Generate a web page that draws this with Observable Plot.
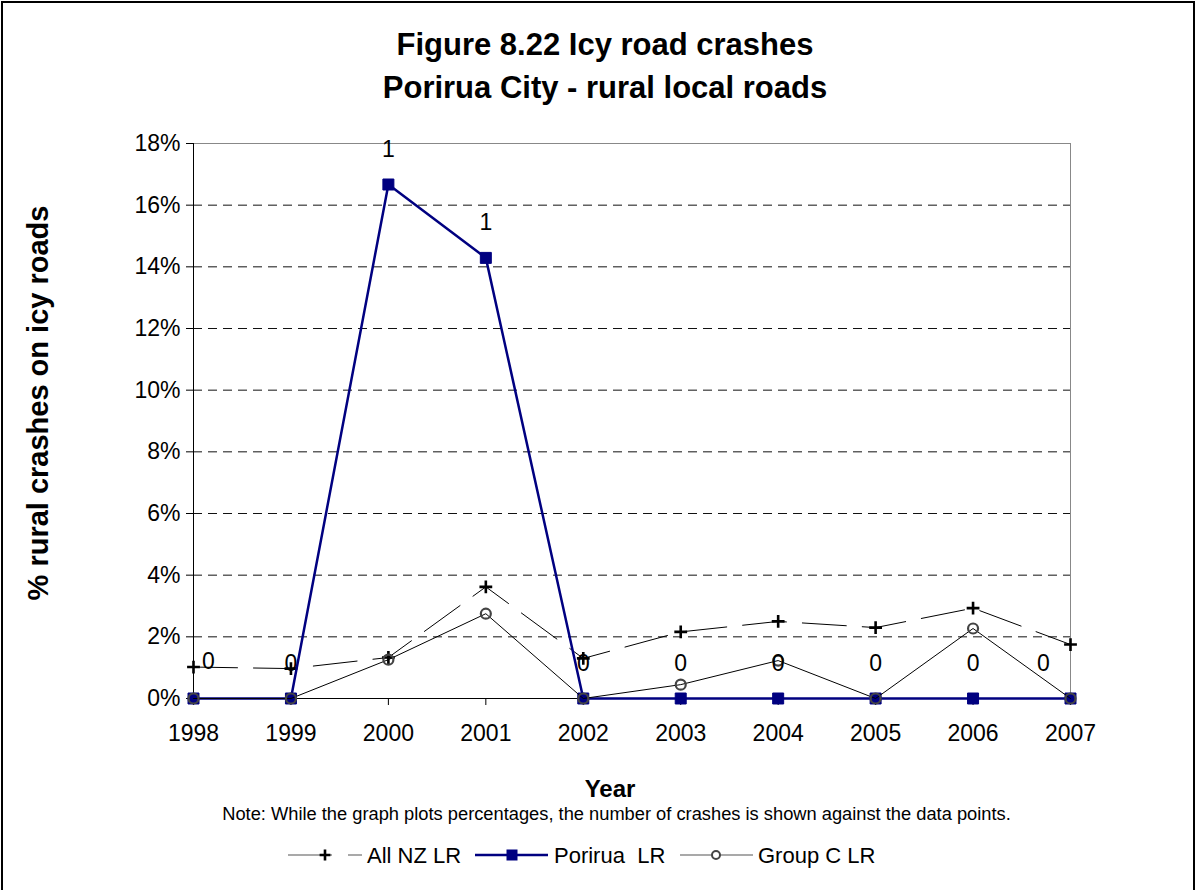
<!DOCTYPE html>
<html><head><meta charset="utf-8">
<script src="https://cdn.jsdelivr.net/npm/d3@7"></script>
<script src="https://cdn.jsdelivr.net/npm/@observablehq/plot@0.6"></script>
<style>
body{margin:0;background:#fff;font-family:Arial,"Liberation Sans",sans-serif;color:#000;}
#wrap{position:relative;width:1197px;height:890px;overflow:hidden;background:#fff;}
#chart{position:absolute;left:0;top:0;}
#border{position:absolute;left:1px;top:1px;width:1194px;height:920px;border:2px solid #000;box-sizing:border-box;pointer-events:none;}
.title{position:absolute;left:0;top:23px;width:1210px;text-align:center;font-weight:bold;font-size:31px;line-height:43px;}
.xtitle{position:absolute;left:0;width:1220px;text-align:center;font-weight:bold;font-size:24px;top:775px;}
.note{position:absolute;left:0;width:1233px;text-align:center;font-size:18.3px;top:803px;}
.ytitle{position:absolute;left:38px;top:403px;transform:translate(-50%,-50%) rotate(-90deg);font-weight:bold;font-size:29px;white-space:nowrap;}
#legend{position:absolute;left:0;top:835px;}
</style>
</head><body>
<div id="wrap">
  <div id="chart"></div>
  <div class="title">Figure 8.22 Icy road crashes<br>Porirua City - rural local roads</div>
  <div class="ytitle">% rural crashes on icy roads</div>
  <div class="xtitle">Year</div>
  <div class="note">Note: While the graph plots percentages, the number of crashes is shown against the data points.</div>
  <svg id="legend" width="1197" height="45"></svg>
  <div id="border"></div>
</div>
<script>
const years = [1998, 1999, 2000, 2001, 2002, 2003, 2004, 2005, 2006, 2007];
const allNZ = [1.02, 0.97, 1.33, 3.62, 1.30, 2.16, 2.50, 2.30, 2.93, 1.75];
const porirua = [0, 0, 16.67, 14.29, 0, 0, 0, 0, 0, 0];
const groupC = [0, 0, 1.26, 2.75, 0, 0.45, 1.23, 0, 2.27, 0];
const poriruaCounts = [0, 0, 1, 1, 0, 0, 0, 0, 0, 0];
const yTicks = [0, 2, 4, 6, 8, 10, 12, 14, 16, 18];
const seriesNames = ["All NZ LR", "Porirua  LR", "Group C LR"];

const rows = years.map((y, i) => ({year: y, allNZ: allNZ[i], porirua: porirua[i], groupC: groupC[i], count: poriruaCounts[i]}));
const first = years[0], last = years[years.length - 1];

const navy = "#000080";
const plot = Plot.plot({
  width: 1197, height: 890,
  marginTop: 143, marginBottom: 192, marginLeft: 193, marginRight: 127,
  x: {domain: [first, last]},
  y: {domain: [0, 18]},
  style: {fontFamily: "Arial, 'Liberation Sans', sans-serif", fontSize: "23px", color: "#000", background: "transparent"},
  marks: [
    Plot.ruleY(yTicks.filter(d => d > 0), {stroke: "#111", strokeDasharray: "9,6"}),
    Plot.frame({stroke: "#888"}),
    Plot.ruleX([first], {stroke: "#000"}),
    Plot.ruleY([0], {stroke: "#000"}),
    Plot.axisY({ticks: yTicks, tickFormat: d => d + "%", tickSize: 7, tickPadding: 6, label: null, fontSize: 23}),
    Plot.axisX({ticks: years, tickFormat: d => String(d), tickSize: 7, tickPadding: 19, label: null, fontSize: 23}),
    Plot.line(rows, {x: "year", y: "allNZ", stroke: "#000", strokeWidth: 1, strokeDasharray: "44,16"}),
    Plot.dot(rows, {x: "year", y: "allNZ", symbol: "plus", r: 4.2, stroke: "#000", strokeWidth: 2.6}),
    Plot.line(rows, {x: "year", y: "porirua", stroke: navy, strokeWidth: 2.5}),
    Plot.dot(rows, {x: "year", y: "porirua", symbol: "square", r: 6.2, fill: navy, stroke: navy, strokeWidth: 1}),
    Plot.line(rows, {x: "year", y: "groupC", stroke: "#000", strokeWidth: 1}),
    Plot.dot(rows, {x: "year", y: "groupC", symbol: "circle", r: 5, fill: "none", stroke: "#444", strokeWidth: 2.2}),
    Plot.text(rows.filter(d => d.year === first), {x: "year", y: "porirua", text: d => String(d.count), dy: -37, dx: 15, fontSize: 23}),
    Plot.text(rows.filter(d => d.year !== first && d.year !== last), {x: "year", y: "porirua", text: d => String(d.count), dy: -35, fontSize: 23}),
    Plot.text(rows.filter(d => d.year === last), {x: "year", y: "porirua", text: d => String(d.count), dy: -35, dx: -27, fontSize: 23})
  ]
});
document.getElementById("chart").appendChild(plot);

// legend
const lg = d3.select("#legend");
const cy = 20;
const items = [
  {x0: 288, x1: 362, mx: 325, tx: 367, stroke: "#555", width: 1.2, dash: "44,16", marker: "plus"},
  {x0: 475, x1: 548, mx: 512, tx: 554, stroke: navy, width: 2.5, dash: null, marker: "square"},
  {x0: 680, x1: 753, mx: 716, tx: 758, stroke: "#555", width: 1.2, dash: null, marker: "circle"}
];
items.forEach((it, i) => {
  lg.append("line").attr("x1", it.x0).attr("x2", it.x1).attr("y1", cy).attr("y2", cy)
    .attr("stroke", it.stroke).attr("stroke-width", it.width).attr("stroke-dasharray", it.dash);
  if (it.marker === "plus") {
    lg.append("path").attr("d", d3.symbol(d3.symbolPlus, 40)()).attr("transform", `translate(${it.mx},${cy})`)
      .attr("stroke", "#000").attr("stroke-width", 2.6).attr("fill", "none");
  } else if (it.marker === "square") {
    lg.append("rect").attr("x", it.mx - 5.5).attr("y", cy - 5.5).attr("width", 11).attr("height", 11).attr("fill", navy);
  } else {
    lg.append("circle").attr("cx", it.mx).attr("cy", cy).attr("r", 4).attr("fill", "#fff").attr("stroke", "#444").attr("stroke-width", 2);
  }
  lg.append("text").attr("x", it.tx).attr("y", cy + 8).attr("font-size", 22)
    .attr("font-family", "Arial, 'Liberation Sans', sans-serif").attr("xml:space", "preserve")
    .style("white-space", "pre").text(seriesNames[i]);
});
</script>
</body></html>
